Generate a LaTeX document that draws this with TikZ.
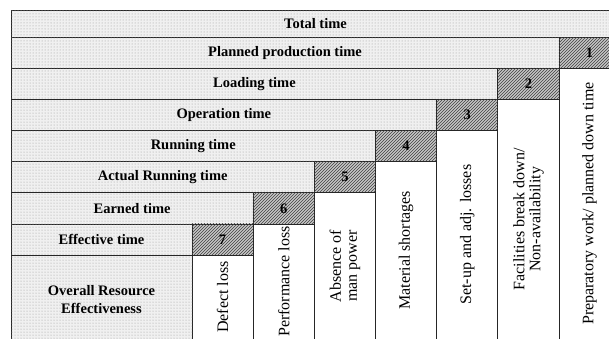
\documentclass[tikz,border=0pt]{standalone}
\usepackage{fontspec}
\setmainfont{Liberation Serif}
\usetikzlibrary{patterns}

\tikzset{
  timebar/.style={draw=black!85, fill=black!6, postaction={pattern=dots, pattern color=black!40}},
  lossbox/.style={draw=black!85, fill=black!22, postaction={pattern=north east lines, pattern color=black!75}},
  losscol/.style={draw=black!85, fill=white},
  barlabel/.style={font=\bfseries\fontsize{14.5}{18}\selectfont},
  losslabel/.style={rotate=90, align=center, font=\fontsize{16}{16}\selectfont}
}

\begin{document}
\begin{tikzpicture}[x=1pt,y=-1pt,line width=0.8pt]
\path[use as bounding box, clip] (0,0) rectangle (609,338);
\def\colw{61.17}
\def\rowh{31.15}
\path[timebar] (11,10) rectangle (620,37);
\node[barlabel] (total) at (315.5,23.5) {Total time};
\foreach \k/\bartext/\losstext in {
  1/Planned production time/{Preparatory work/ planned down time},
  2/Loading time/{Facilities break down/\\Non-availability},
  3/Operation time/{Set-up and adj. losses},
  4/Running time/{Material shortages},
  5/Actual Running time/{Absence of\\man power},
  6/Earned time/{Performance loss},
  7/Effective time/{Defect loss}}{
  \pgfmathsetmacro\xl{192+(7-\k)*\colw}
  \pgfmathsetmacro\xr{\xl+\colw}
  \pgfmathsetmacro\yt{37+(\k-1)*\rowh}
  \pgfmathsetmacro\yb{\yt+\rowh}
  \path[timebar] (11,\yt) rectangle (\xl,\yb);
  \node[barlabel] (bar\k) at ({(11+\xl)/2},{(\yt+\yb)/2}) {\bartext};
  \path[lossbox] (\xl,\yt) rectangle (\xr,\yb);
  \node[barlabel] (num\k) at ({(\xl+\xr)/2},{(\yt+\yb)/2}) {\k};
  \path[losscol] (\xl,\yb) rectangle (\xr,345);
  \node[losslabel] (loss\k) at ({(\xl+\xr)/2},{(\yb+339)/2}) {\losstext};
}
\path[timebar] (11,255) rectangle (192,345);
\node[barlabel, align=center] (ore) at (101.5,300) {Overall Resource\\Effectiveness};
\end{tikzpicture}
\end{document}
